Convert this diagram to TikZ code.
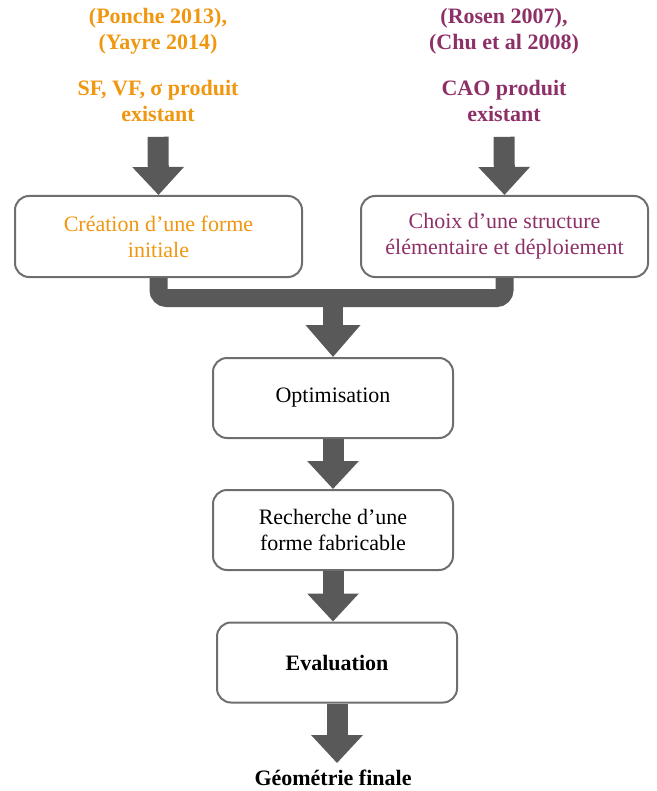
\documentclass[tikz,border=0pt]{standalone}
\usepackage{fontspec}
\setmainfont{LiberationSerif}[Extension=.ttf,UprightFont=*-Regular,BoldFont=*-Bold]
\usetikzlibrary{arrows.meta,positioning}
\definecolor{refor}{HTML}{F0960F}
\definecolor{refpu}{HTML}{8E3068}
\definecolor{flowgr}{HTML}{595959}
\definecolor{boxgr}{HTML}{6E6E6E}

\begin{document}
\begin{tikzpicture}[x=.5pt,y=-.5pt,font=\fontsize{11}{13}\selectfont,
 src/.style={align=center,font=\fontsize{11}{13}\selectfont\bfseries},
 stage/.style={draw=boxgr,line width=1pt,rounded corners=7pt,fill=white,align=center,
  minimum width=120pt,minimum height=40pt,inner sep=2pt},
 wide/.style={stage,minimum width=143.5pt,minimum height=40.5pt},
 flow/.style={flowgr,line width=10.5pt,-{Triangle[width=25pt,length=14pt]}},
 mergebar/.style={flowgr,line width=9pt,rounded corners=4pt}]
 \useasboundingbox(0,0)rectangle(657,791);
 % sources
 \node[src,text=refor](refL)at(158,31){(Ponche 2013),\\(Yayre 2014)};
 \node[src,text=refor](inL)at(158,101){SF, VF, σ produit\\existant};
 \node[src,text=refpu](refR)at(504,31){(Rosen 2007),\\(Chu et al 2008)};
 \node[src,text=refpu](inR)at(504,101){CAO produit\\existant};
 % stages
 \node[wide,text=refor](creat)at(158.5,236.5){Création d’une forme\\initiale};
 \node[wide,text=refpu](choix)at(504.5,236.5){Choix d’une structure\\élémentaire et déploiement};
 \node[stage](optim)at(333,398){Optimisation};
 \node[stage](rech)at(333,530){Recherche d’une\\forme fabricable};
 \node[stage](eval)at(337,662.5){\bfseries Evaluation};
 \node[src](final)at(333,778){Géométrie finale};
 \coordinate(merge)at(333,298);
 % connectors
 \draw[flow]([yshift=-4pt]inL.south)--(creat.north);
 \draw[flow]([yshift=-4pt]inR.south)--(choix.north);
 \draw[mergebar](creat.south)|-(merge)-|(choix.south);
 \draw[flow,line width=10pt,-{Triangle[width=26.5pt,length=16pt]}]([yshift=4pt]merge)--(optim.north);
 \draw[flow](optim.south)--(rech.north);
 \draw[flow](rech.south)--(rech.south|-eval.north);
 \draw[flow](eval.south)--(eval.south|-final.north);
\end{tikzpicture}
\end{document}
